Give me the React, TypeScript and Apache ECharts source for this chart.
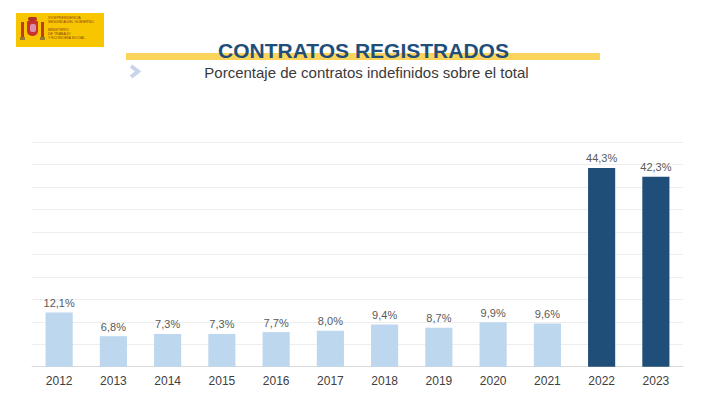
import React, { useEffect, useRef } from "react";
import * as echarts from "echarts";

const years = ["2012", "2013", "2014", "2015", "2016", "2017", "2018", "2019", "2020", "2021", "2022", "2023"];
const values = [12.1, 6.8, 7.3, 7.3, 7.7, 8.0, 9.4, 8.7, 9.9, 9.6, 44.3, 42.3];
const highlighted = ["2022", "2023"];
const titleText = "CONTRATOS REGISTRADOS";
const subtitleText = "Porcentaje de contratos indefinidos sobre el total";
const logoLines = ["VICEPRESIDENCIA", "SEGUNDA DEL GOBIERNO", "MINISTERIO", "DE TRABAJO", "Y ECONOMÍA SOCIAL"];

export default function App() {
  const ref = useRef<HTMLDivElement>(null);
  useEffect(() => {
    if (!ref.current) return;
    const chart = echarts.init(ref.current, null, { renderer: "svg" });
    const logoText = logoLines.map((t, i) => ({
      type: "text",
      left: 48,
      top: 16 + i * 4 + (i >= 2 ? 4 : 0),
      style: { text: t, fill: "#8a3b1a", font: "3.6px Liberation Sans, Arial, sans-serif" },
    }));
    chart.setOption({
      animation: false,
      backgroundColor: "#ffffff",
      grid: { left: 32, right: 37, top: 142.3, bottom: 39.3, containLabel: false },
      xAxis: {
        type: "category",
        data: years,
        axisLine: { show: true, lineStyle: { color: "#d9d9d9", width: 1 } },
        axisTick: { show: false },
        axisLabel: { color: "#404040", fontSize: 12, margin: 8, fontFamily: "Liberation Sans, Arial, sans-serif" },
      },
      yAxis: {
        type: "value",
        min: 0,
        max: 50,
        interval: 5,
        axisLabel: { show: false },
        axisLine: { show: false },
        axisTick: { show: false },
        splitLine: { lineStyle: { color: "#eeeeee", width: 1 } },
      },
      series: [
        {
          type: "bar",
          barWidth: "50%",
          data: values.map((v, i) => ({
            value: v,
            itemStyle: { color: highlighted.includes(years[i]) ? "#1f4e79" : "#bdd7ee" },
          })),
          label: {
            show: true,
            position: "top",
            distance: 4,
            color: "#595959",
            fontSize: 11,
            fontFamily: "Liberation Sans, Arial, sans-serif",
            formatter: (p: any) => p.value.toFixed(1).replace(".", ",") + "%",
          },
        },
      ],
      graphic: [
        { type: "rect", shape: { x: 16, y: 13, width: 88, height: 34 }, style: { fill: "#f7c600" } },
        // coat of arms approximation
        { type: "rect", shape: { x: 27, y: 21, width: 11, height: 15, r: [1, 1, 5, 5] }, style: { fill: "#c8332b" } },
        { type: "rect", shape: { x: 30, y: 24, width: 6, height: 8, r: 2 }, style: { fill: "#d98fae" } },
        { type: "rect", shape: { x: 28, y: 17, width: 9, height: 4, r: 2 }, style: { fill: "#b0322a" } },
        { type: "rect", shape: { x: 21, y: 22, width: 3, height: 15 }, style: { fill: "#c0392b" } },
        { type: "rect", shape: { x: 41, y: 22, width: 3, height: 15 }, style: { fill: "#c0392b" } },
        { type: "rect", shape: { x: 20, y: 37, width: 5, height: 3 }, style: { fill: "#9b7b2a" } },
        { type: "rect", shape: { x: 40, y: 37, width: 5, height: 3 }, style: { fill: "#9b7b2a" } },
        ...logoText,
        // title band
        { type: "rect", shape: { x: 126, y: 53, width: 474, height: 7 }, style: { fill: "#fbd45c" } },
        {
          type: "text",
          x: 363.5,
          y: 50,
          style: {
            text: titleText,
            fill: "#1f4e79",
            font: "bold 21px Liberation Sans, Arial, sans-serif",
            textAlign: "center",
            textVerticalAlign: "middle",
          },
        },
        {
          type: "polyline",
          shape: { points: [[131, 66], [138, 71.5], [131, 77]] },
          style: { stroke: "#c9d3ea", lineWidth: 4, fill: "none" },
        },
        {
          type: "text",
          x: 366.5,
          y: 72,
          style: {
            text: subtitleText,
            fill: "#3a3a3a",
            font: "15px Liberation Sans, Arial, sans-serif",
            textAlign: "center",
            textVerticalAlign: "middle",
          },
        },
      ],
    });
    return () => chart.dispose();
  }, []);
  return <div ref={ref} style={{ position: "absolute", left: 0, top: 0, width: 720, height: 406 }} />;
}
